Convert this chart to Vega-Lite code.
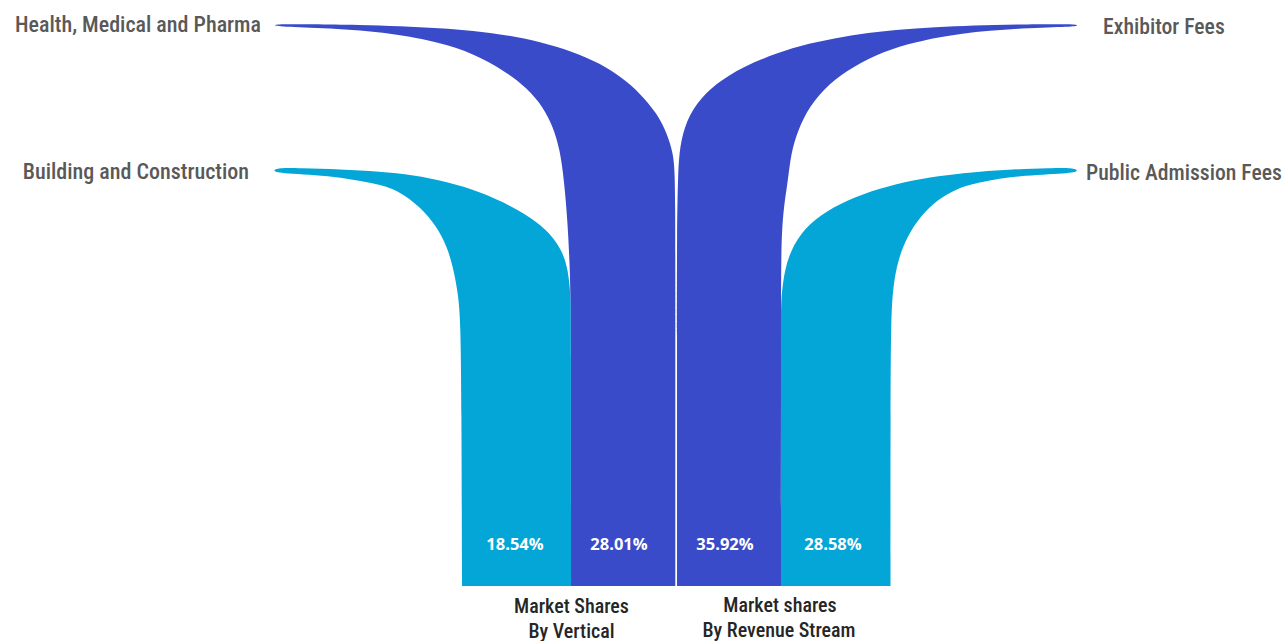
{
  "$schema": "https://vega.github.io/schema/vega-lite/v6.json",
  "width": 1285,
  "height": 641,
  "padding": 0,
  "autosize": {"type": "none"},
  "config": {"view": {"stroke": null}},
  "datasets": {
    "bands": [
      {"b":"DL","i":1,"x":675.3,"y":586},
      {"b":"DL","i":2,"x":675.3,"y":300},
      {"b":"DL","i":3,"x":675.3,"y":200},
      {"b":"DL","i":4,"x":674.5,"y":168},
      {"b":"DL","i":5,"x":673,"y":153},
      {"b":"DL","i":6,"x":667,"y":133.3},
      {"b":"DL","i":7,"x":657,"y":113.3},
      {"b":"DL","i":8,"x":640,"y":93.3},
      {"b":"DL","i":9,"x":623,"y":78.3},
      {"b":"DL","i":10,"x":600,"y":63.3},
      {"b":"DL","i":11,"x":573,"y":51.7},
      {"b":"DL","i":12,"x":540,"y":41.7},
      {"b":"DL","i":13,"x":507,"y":35},
      {"b":"DL","i":14,"x":473,"y":30.7},
      {"b":"DL","i":15,"x":440,"y":28.3},
      {"b":"DL","i":16,"x":400,"y":26.2},
      {"b":"DL","i":17,"x":360,"y":24.9},
      {"b":"DL","i":18,"x":310,"y":24.2},
      {"b":"DL","i":19,"x":280,"y":24},
      {"b":"DL","i":20,"x":272.5,"y":25.3},
      {"b":"DL","i":21,"x":280,"y":26.7},
      {"b":"DL","i":22,"x":327,"y":28},
      {"b":"DL","i":23,"x":393,"y":33},
      {"b":"DL","i":24,"x":440,"y":42.7},
      {"b":"DL","i":25,"x":473,"y":53.3},
      {"b":"DL","i":26,"x":505,"y":71},
      {"b":"DL","i":27,"x":527,"y":88},
      {"b":"DL","i":28,"x":543,"y":106.7},
      {"b":"DL","i":29,"x":553,"y":126.7},
      {"b":"DL","i":30,"x":560,"y":150},
      {"b":"DL","i":31,"x":564,"y":180},
      {"b":"DL","i":32,"x":567.5,"y":220},
      {"b":"DL","i":33,"x":570,"y":270},
      {"b":"DL","i":34,"x":571,"y":320},
      {"b":"DL","i":35,"x":571,"y":586},

      {"b":"LL","i":1,"x":571,"y":586},
      {"b":"LL","i":2,"x":571,"y":320},
      {"b":"LL","i":3,"x":570.5,"y":293},
      {"b":"LL","i":4,"x":568,"y":270},
      {"b":"LL","i":5,"x":563,"y":253},
      {"b":"LL","i":6,"x":553,"y":236.7},
      {"b":"LL","i":7,"x":537,"y":221.7},
      {"b":"LL","i":8,"x":513,"y":206.7},
      {"b":"LL","i":9,"x":480,"y":191.7},
      {"b":"LL","i":10,"x":447,"y":181.7},
      {"b":"LL","i":11,"x":413,"y":175},
      {"b":"LL","i":12,"x":380,"y":171.7},
      {"b":"LL","i":13,"x":340,"y":169.4},
      {"b":"LL","i":14,"x":300,"y":168.2},
      {"b":"LL","i":15,"x":278,"y":167.8},
      {"b":"LL","i":16,"x":272.8,"y":170.6},
      {"b":"LL","i":17,"x":278,"y":173.4},
      {"b":"LL","i":18,"x":327,"y":175},
      {"b":"LL","i":19,"x":380,"y":184},
      {"b":"LL","i":20,"x":400,"y":191.7},
      {"b":"LL","i":21,"x":420,"y":206.7},
      {"b":"LL","i":22,"x":437,"y":226.7},
      {"b":"LL","i":23,"x":447,"y":246.7},
      {"b":"LL","i":24,"x":453,"y":266.7},
      {"b":"LL","i":25,"x":458,"y":293},
      {"b":"LL","i":26,"x":460.5,"y":320},
      {"b":"LL","i":27,"x":461.5,"y":400},
      {"b":"LL","i":28,"x":462,"y":586},

      {"b":"DR","i":1,"x":677,"y":586},
      {"b":"DR","i":2,"x":677,"y":300},
      {"b":"DR","i":3,"x":677,"y":230},
      {"b":"DR","i":4,"x":677.5,"y":200},
      {"b":"DR","i":5,"x":678,"y":180},
      {"b":"DR","i":6,"x":679,"y":153},
      {"b":"DR","i":7,"x":684,"y":126.7},
      {"b":"DR","i":8,"x":696,"y":103.3},
      {"b":"DR","i":9,"x":716,"y":83.3},
      {"b":"DR","i":10,"x":743,"y":66.7},
      {"b":"DR","i":11,"x":776,"y":53.3},
      {"b":"DR","i":12,"x":809,"y":43.3},
      {"b":"DR","i":13,"x":843,"y":36.7},
      {"b":"DR","i":14,"x":876,"y":31.7},
      {"b":"DR","i":15,"x":916,"y":28.3},
      {"b":"DR","i":16,"x":955,"y":26.2},
      {"b":"DR","i":17,"x":993,"y":24.9},
      {"b":"DR","i":18,"x":1040,"y":24.2},
      {"b":"DR","i":19,"x":1072,"y":24},
      {"b":"DR","i":20,"x":1079.5,"y":25.4},
      {"b":"DR","i":21,"x":1072,"y":26.7},
      {"b":"DR","i":22,"x":1025,"y":28},
      {"b":"DR","i":23,"x":959,"y":33},
      {"b":"DR","i":24,"x":914,"y":42.2},
      {"b":"DR","i":25,"x":883,"y":51.7},
      {"b":"DR","i":26,"x":853,"y":66.7},
      {"b":"DR","i":27,"x":829,"y":83.3},
      {"b":"DR","i":28,"x":809,"y":106.7},
      {"b":"DR","i":29,"x":798,"y":130},
      {"b":"DR","i":30,"x":791,"y":153},
      {"b":"DR","i":31,"x":788,"y":180},
      {"b":"DR","i":32,"x":784,"y":205},
      {"b":"DR","i":33,"x":781.5,"y":235},
      {"b":"DR","i":34,"x":781,"y":280},
      {"b":"DR","i":35,"x":781,"y":586},

      {"b":"LR","i":1,"x":781,"y":586},
      {"b":"LR","i":2,"x":781,"y":320},
      {"b":"LR","i":3,"x":781,"y":303},
      {"b":"LR","i":4,"x":783,"y":280},
      {"b":"LR","i":5,"x":788,"y":256.7},
      {"b":"LR","i":6,"x":800,"y":233.3},
      {"b":"LR","i":7,"x":820,"y":215},
      {"b":"LR","i":8,"x":847,"y":200},
      {"b":"LR","i":9,"x":880,"y":188.3},
      {"b":"LR","i":10,"x":913,"y":180},
      {"b":"LR","i":11,"x":947,"y":175},
      {"b":"LR","i":12,"x":980,"y":171.7},
      {"b":"LR","i":13,"x":1012,"y":169.4},
      {"b":"LR","i":14,"x":1050,"y":168.2},
      {"b":"LR","i":15,"x":1073,"y":167.8},
      {"b":"LR","i":16,"x":1078.7,"y":170.6},
      {"b":"LR","i":17,"x":1073,"y":173.4},
      {"b":"LR","i":18,"x":1025,"y":175},
      {"b":"LR","i":19,"x":980,"y":181.7},
      {"b":"LR","i":20,"x":957,"y":188.3},
      {"b":"LR","i":21,"x":937,"y":200},
      {"b":"LR","i":22,"x":920,"y":216.7},
      {"b":"LR","i":23,"x":907,"y":236.7},
      {"b":"LR","i":24,"x":898,"y":260},
      {"b":"LR","i":25,"x":893,"y":286.7},
      {"b":"LR","i":26,"x":891,"y":320},
      {"b":"LR","i":27,"x":890.5,"y":400},
      {"b":"LR","i":28,"x":890.5,"y":586}
    ],
    "percents": [
      {"t":"18.54%","x":515,"d":545},
      {"t":"28.01%","x":619,"d":545},
      {"t":"35.92%","x":725,"d":545},
      {"t":"28.58%","x":833,"d":545}
    ],
    "leftcats": [
      {"t":"Health, Medical and Pharma","x":261,"d":25},
      {"t":"Building and Construction","x":249,"d":171.5}
    ],
    "rightcats": [
      {"t":"Exhibitor Fees","x":1103,"d":26.5},
      {"t":"Public Admission Fees","x":1086,"d":172.5}
    ],
    "captions": [
      {"t":"Market Shares","x":571.5,"d":607},
      {"t":"By  Vertical","x":571.5,"d":631.5},
      {"t":"Market shares","x":780,"d":606},
      {"t":"By Revenue Stream","x":779,"d":631}
    ]
  },
  "layer": [
    {
      "data": {"name": "bands"},
      "mark": {"type": "line", "filled": true, "interpolate": "basis"},
      "encoding": {
        "y": {"field": "y", "type": "quantitative", "scale": {"domain": [0, 641], "reverse": true, "nice": false, "zero": false}, "axis": null},
        "x": {"field": "x", "type": "quantitative", "scale": {"domain": [0, 1285], "nice": false, "zero": false}, "axis": null},
        "order": {"field": "i", "type": "quantitative"},
        "color": {"field": "b", "type": "nominal", "scale": {"domain": ["DL", "LL", "DR", "LR"], "range": ["#3a4bc9", "#03a6d6", "#3a4bc9", "#03a6d6"]}, "legend": null}
      }
    },
    {
      "data": {"name": "percents"},
      "mark": {"type": "text", "font": "Open Sans", "fontWeight": "bold", "fontSize": 16.5, "color": "#ffffff", "align": "center", "baseline": "middle"},
      "encoding": {
        "x": {"field": "x", "type": "quantitative"},
        "y": {"field": "d", "type": "quantitative"},
        "text": {"field": "t"}
      }
    },
    {
      "data": {"name": "leftcats"},
      "mark": {"type": "text", "font": "Liberation Sans Narrow, Roboto Condensed, DejaVu Sans Condensed, Arial Narrow, sans-serif", "fontSize": 22, "fontWeight": 500, "color": "#595959", "align": "right", "baseline": "middle"},
      "encoding": {
        "x": {"field": "x", "type": "quantitative"},
        "y": {"field": "d", "type": "quantitative"},
        "text": {"field": "t"}
      }
    },
    {
      "data": {"name": "rightcats"},
      "mark": {"type": "text", "font": "Liberation Sans Narrow, Roboto Condensed, DejaVu Sans Condensed, Arial Narrow, sans-serif", "fontSize": 21.7, "fontWeight": 500, "color": "#595959", "align": "left", "baseline": "middle"},
      "encoding": {
        "x": {"field": "x", "type": "quantitative"},
        "y": {"field": "d", "type": "quantitative"},
        "text": {"field": "t"}
      }
    },
    {
      "data": {"name": "captions"},
      "mark": {"type": "text", "font": "Liberation Sans Narrow, Roboto Condensed, DejaVu Sans Condensed, Arial Narrow, sans-serif", "fontSize": 20, "fontWeight": 500, "color": "#262626", "align": "center", "baseline": "middle"},
      "encoding": {
        "x": {"field": "x", "type": "quantitative"},
        "y": {"field": "d", "type": "quantitative"},
        "text": {"field": "t"}
      }
    }
  ]
}
